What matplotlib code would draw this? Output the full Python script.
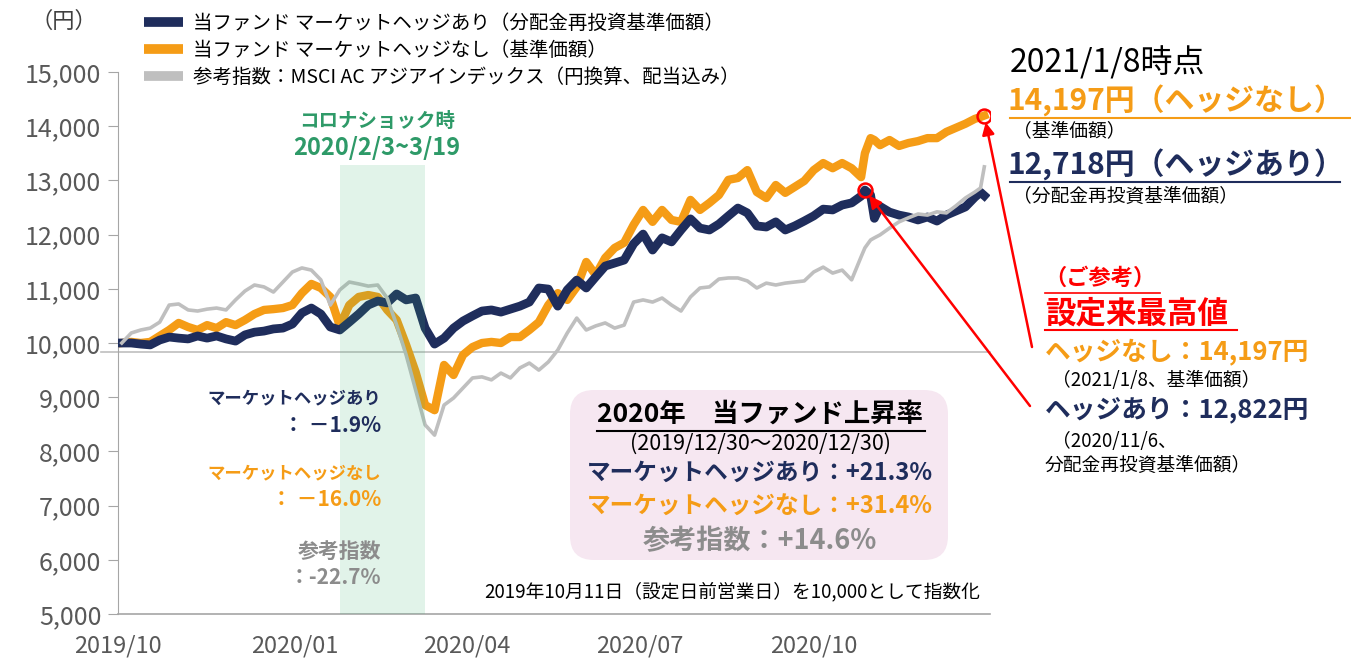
import matplotlib.pyplot as plt
import matplotlib.dates as mdates
from matplotlib.lines import Line2D
from matplotlib.patches import FancyBboxPatch
from matplotlib.transforms import IdentityTransform
import pandas as pd

plt.rcParams['font.family'] = ['Noto Sans CJK JP', 'DejaVu Sans']

# --- data ---
dates = ['2019-10-11', '2019-10-16', '2019-10-21', '2019-10-26', '2019-10-31',
         '2019-11-05', '2019-11-10', '2019-11-15', '2019-11-20', '2019-11-25', '2019-11-30',
         '2019-12-05', '2019-12-10', '2019-12-15', '2019-12-20', '2019-12-25', '2019-12-30',
         '2020-01-04', '2020-01-09', '2020-01-14', '2020-01-19', '2020-01-24', '2020-01-29',
         '2020-02-03', '2020-02-08', '2020-02-13', '2020-02-18', '2020-02-23', '2020-02-28',
         '2020-03-04', '2020-03-09', '2020-03-14', '2020-03-19', '2020-03-24', '2020-03-29',
         '2020-04-03', '2020-04-08', '2020-04-13', '2020-04-18', '2020-04-23', '2020-04-28',
         '2020-05-03', '2020-05-08', '2020-05-13', '2020-05-18', '2020-05-23', '2020-05-28',
         '2020-06-02', '2020-06-07', '2020-06-12', '2020-06-17', '2020-06-22', '2020-06-27',
         '2020-07-02', '2020-07-07', '2020-07-12', '2020-07-17', '2020-07-22', '2020-07-27',
         '2020-08-01', '2020-08-06', '2020-08-11', '2020-08-16', '2020-08-21', '2020-08-26', '2020-08-31',
         '2020-09-05', '2020-09-10', '2020-09-15', '2020-09-20', '2020-09-25', '2020-09-30',
         '2020-10-05', '2020-10-10', '2020-10-15', '2020-10-20', '2020-10-25', '2020-10-30',
         '2020-11-04', '2020-11-06', '2020-11-09', '2020-11-11', '2020-11-14', '2020-11-19', '2020-11-24', '2020-11-29',
         '2020-12-04', '2020-12-09', '2020-12-14', '2020-12-19', '2020-12-24', '2020-12-29',
         '2021-01-03', '2021-01-06', '2021-01-08']

hedged = [10000, 10000, 9980, 9965, 10055, 10110, 10090, 10075, 10130, 10090, 10130, 10075, 10035, 10150, 10200, 10220, 10260,
          10275, 10350, 10555, 10645, 10535, 10295,
          10240, 10385, 10535, 10700, 10775, 10740,
          10905, 10795, 10830, 10275, 9980, 10090,
          10275, 10405, 10500, 10590, 10610, 10570,
          10625, 10680, 10755, 11015, 10995, 10680,
          10980, 11160, 11015, 11220, 11420, 11475,
          11530, 11830, 12010, 11715, 11940, 11865,
          12085, 12290, 12120, 12085, 12195, 12345, 12490,
          12400, 12160, 12140, 12235, 12085, 12160,
          12250, 12345, 12470, 12455, 12545, 12585,
          12710, 12822, 12730, 12300, 12520, 12415, 12360, 12325,
          12270, 12325, 12250, 12360, 12435, 12510,
          12690, 12780, 12718]

unhedged = [10000, 10020, 10000, 10020, 10130, 10240, 10370, 10295, 10240, 10330, 10275, 10385, 10330, 10425, 10535, 10610, 10625,
            10645, 10700, 10920, 11090, 11015, 10850,
            10315, 10700, 10850, 10885, 10850, 10610,
            10425, 9965, 9465, 8855, 8760, 9595,
            9410, 9780, 9925, 10000, 10020, 10000,
            10110, 10110, 10240, 10385, 10700, 10920,
            10795, 11035, 11495, 11255, 11570, 11755,
            11850, 12180, 12455, 12235, 12455, 12270,
            12235, 12640, 12455, 12585, 12730, 13010, 13045,
            13190, 12785, 12675, 12915, 12770, 12880,
            12990, 13190, 13320, 13225, 13320, 13225,
            13060, 13500, 13780, 13745, 13650, 13745, 13635, 13690,
            13725, 13780, 13780, 13895, 13970, 14045,
            14135, 14170, 14197]

index_ref = [10000, 10185, 10240, 10275, 10385, 10700, 10720, 10610, 10590, 10625, 10645, 10610, 10795, 10960, 11070, 11035, 10940,
             11125, 11310, 11385, 11345, 11165, 10700,
             10980, 11125, 11090, 11050, 11070, 10830,
             10330, 9780, 9135, 8490, 8300, 8855,
             8985, 9170, 9355, 9375, 9320, 9445,
             9355, 9540, 9630, 9500, 9650, 9870,
             10185, 10460, 10240, 10315, 10370, 10275,
             10330, 10755, 10795, 10755, 10830, 10700,
             10590, 10850, 11015, 11035, 11180, 11200, 11200,
             11145, 11015, 11105, 11070, 11105, 11125,
             11145, 11310, 11400, 11290, 11345, 11165,
             11590, 11755, 11900, 11940, 11995, 12120, 12235, 12310,
             12380, 12360, 12420, 12400, 12530, 12675,
             12785, 12860, 13250]

labels = ['当ファンド マーケットヘッジあり（分配金再投資基準価額）',
          '当ファンド マーケットヘッジなし（基準価額）',
          '参考指数：MSCI AC アジアインデックス（円換算、配当込み）']
xtick_dates = ['2019-10-09', '2020-01-10', '2020-04-10', '2020-07-10', '2020-10-10']
xtick_labels = ['2019/10', '2020/01', '2020/04', '2020/07', '2020/10']
yticks = [5000, 6000, 7000, 8000, 9000, 10000, 11000, 12000, 13000, 14000, 15000]
corona = ('2020-02-03', '2020-03-19')
corona_top = 13290
ref_level = 9830

NAVY = '#1F2D5C'
ORANGE = '#F59C16'
GRAY = '#BFBFBF'
TXTGRAY = '#8C8C8C'
RED = '#FF0000'

W, H = 1351, 658
def fx(px):
    return px / W
def fy(py):
    return 1 - py / H

dt = pd.to_datetime(dates)

fig = plt.figure(figsize=(W / 100, H / 100), dpi=100)
ax = fig.add_axes([fx(118), fy(614), fx(990) - fx(118), fy(72) - fy(614)])

l1, = ax.plot(dt, hedged, color=NAVY, lw=6.3, zorder=3, solid_joinstyle='round')
l2, = ax.plot(dt, unhedged, color=ORANGE, lw=6.0, zorder=2, solid_joinstyle='round')
l3, = ax.plot(dt, index_ref, color=GRAY, lw=2.6, zorder=4)

# corona shock band (drawn over lines, semi-transparent)
ax.fill_between(pd.to_datetime(list(corona)), 5000, corona_top, color='#3CB371', alpha=0.15, lw=0, zorder=5)
ax.axhline(ref_level, xmin=-0.02, color='#BFBFBF', lw=1.2, zorder=1, clip_on=False)

ax.set_xlim(pd.Timestamp('2019-10-09'), pd.Timestamp('2021-01-11'))
ax.set_ylim(5000, 15000)
ax.set_yticks(yticks)
ax.set_yticklabels(['{:,}'.format(v) for v in yticks])
ax.set_xticks(pd.to_datetime(xtick_dates))
ax.set_xticklabels(xtick_labels)
ax.tick_params(axis='y', length=7, color='#A6A6A6', labelsize=18, labelcolor='#595959', pad=5)
ax.tick_params(axis='x', length=0, labelsize=17, labelcolor='#595959', pad=15)
for s in ['top', 'right']:
    ax.spines[s].set_visible(False)
ax.spines['left'].set_color('#A6A6A6')
ax.spines['bottom'].set_color('#A6A6A6')
ax.spines['bottom'].set_linewidth(1.2)

# peaks marked with red circles
i_un = unhedged.index(max(unhedged))
i_he = hedged.index(max(hedged))
ax.plot(dt[i_un], unhedged[i_un], 'o', ms=10, mfc='none', mec=RED, mew=1.8, zorder=7)
ax.plot(dt[i_he], hedged[i_he], 'o', ms=10, mfc='none', mec=RED, mew=1.8, zorder=7)
ap = dict(arrowstyle='-|>', color=RED, lw=1.8, mutation_scale=18, shrinkA=0, shrinkB=5)
ax.annotate('', xy=(dt[i_un], unhedged[i_un]), xytext=(fx(1032), fy(347)),
            textcoords='figure fraction', arrowprops=ap, annotation_clip=False, zorder=8)
ax.annotate('', xy=(dt[i_he], hedged[i_he]), xytext=(fx(1030), fy(406)),
            textcoords='figure fraction', arrowprops=ap, annotation_clip=False, zorder=8)

# legend
handles = [Line2D([], [], color=c, lw=7, solid_capstyle='butt') for c in (NAVY, ORANGE, GRAY)]
ax.legend(handles, labels, loc='upper left', bbox_to_anchor=(fx(144), fy(13)), bbox_transform=fig.transFigure,
          frameon=False, fontsize=14, handlelength=2.0, handletextpad=0.5, labelspacing=0.3, borderpad=0,
          borderaxespad=0)

fig.text(fx(64), fy(21), '（円）', fontsize=16, ha='center', va='center', color='#404040')

# corona annotation
GREEN = '#2E9A68'
fig.text(fx(377), fy(121), 'コロナショック時', fontsize=14, fontweight='bold', color=GREEN, ha='center', va='center')
fig.text(fx(377), fy(148), '2020/2/3~3/19', fontsize=17, fontweight='bold', color=GREEN, ha='center', va='center')

# drawdown annotations
fig.text(fx(381), fy(398), 'マーケットヘッジあり', fontsize=12.5, fontweight='bold', color=NAVY, ha='right', va='center')
fig.text(fx(381), fy(425), '： －1.9%', fontsize=15, fontweight='bold', color=NAVY, ha='right', va='center')
fig.text(fx(381), fy(473), 'マーケットヘッジなし', fontsize=12.5, fontweight='bold', color=ORANGE, ha='right', va='center')
fig.text(fx(381), fy(500), '： －16.0%', fontsize=15, fontweight='bold', color=ORANGE, ha='right', va='center')
fig.text(fx(381), fy(551), '参考指数', fontsize=15, fontweight='bold', color=TXTGRAY, ha='right', va='center')
fig.text(fx(381), fy(578), '：-22.7%', fontsize=15, fontweight='bold', color=TXTGRAY, ha='right', va='center')

# 2020 return box
box = FancyBboxPatch((570, H - 560), 378, 170, boxstyle='round,pad=0,rounding_size=24',
                     transform=IdentityTransform(), facecolor='#F6E7F1', edgecolor='none', zorder=0)
fig.patches.append(box)
fig.text(fx(760), fy(414), '2020年　当ファンド上昇率', fontsize=19, fontweight='bold', color='black', ha='center', va='center')
fig.add_artist(Line2D([fx(597), fx(925)], [fy(431), fy(431)], color='black', lw=1.5))
fig.text(fx(760), fy(444), '(2019/12/30～2020/12/30)', fontsize=15.5, color='black', ha='center', va='center')
fig.text(fx(760), fy(473), 'マーケットヘッジあり：+21.3%', fontsize=17, fontweight='bold', color=NAVY, ha='center', va='center')
fig.text(fx(760), fy(507), 'マーケットヘッジなし：+31.4%', fontsize=17, fontweight='bold', color=ORANGE, ha='center', va='center')
fig.text(fx(760), fy(541), '参考指数：+14.6%', fontsize=19.5, fontweight='bold', color=TXTGRAY, ha='center', va='center')

fig.text(fx(980), fy(592), '2019年10月11日（設定日前営業日）を10,000として指数化', fontsize=13.5,
         color='black', ha='right', va='center')

# right side summary
fig.text(fx(1010), fy(63), '2021/1/8時点', fontsize=23, color='black', ha='left', va='center')
fig.text(fx(1008), fy(101), '14,197円（ヘッジなし）', fontsize=21.5, fontweight='bold', color=ORANGE, ha='left', va='center')
fig.add_artist(Line2D([fx(1010), fx(1351)], [fy(118), fy(118)], color=ORANGE, lw=1.5))
fig.text(fx(1013), fy(131), '（基準価額）', fontsize=13.5, color='black', ha='left', va='center')
fig.text(fx(1008), fy(165), '12,718円（ヘッジあり）', fontsize=21.5, fontweight='bold', color=NAVY, ha='left', va='center')
fig.add_artist(Line2D([fx(1010), fx(1340)], [fy(182), fy(182)], color=NAVY, lw=1.5))
fig.text(fx(1013), fy(196), '（分配金再投資基準価額）', fontsize=13.5, color='black', ha='left', va='center')

fig.text(fx(1100), fy(278), '（ご参考）', fontsize=16, fontweight='bold', color=RED, ha='center', va='center')
fig.add_artist(Line2D([fx(1045), fx(1160)], [fy(293), fy(293)], color=RED, lw=1.2))
fig.text(fx(1045), fy(313), '設定来最高値', fontsize=22, fontweight='bold', color=RED, ha='left', va='center')
fig.add_artist(Line2D([fx(1045), fx(1237)], [fy(330), fy(330)], color=RED, lw=1.5))
fig.text(fx(1045), fy(352), 'ヘッジなし：14,197円', fontsize=18.5, fontweight='bold', color=ORANGE, ha='left', va='center')
fig.text(fx(1052), fy(381), '（2021/1/8、基準価額）', fontsize=13.5, color='black', ha='left', va='center')
fig.text(fx(1045), fy(410), 'ヘッジあり：12,822円', fontsize=18.5, fontweight='bold', color=NAVY, ha='left', va='center')
fig.text(fx(1052), fy(441), '（2020/11/6、', fontsize=13.5, color='black', ha='left', va='center')
fig.text(fx(1045), fy(465), '分配金再投資基準価額）', fontsize=13.5, color='black', ha='left', va='center')

fig.savefig('out.png', dpi=100)
